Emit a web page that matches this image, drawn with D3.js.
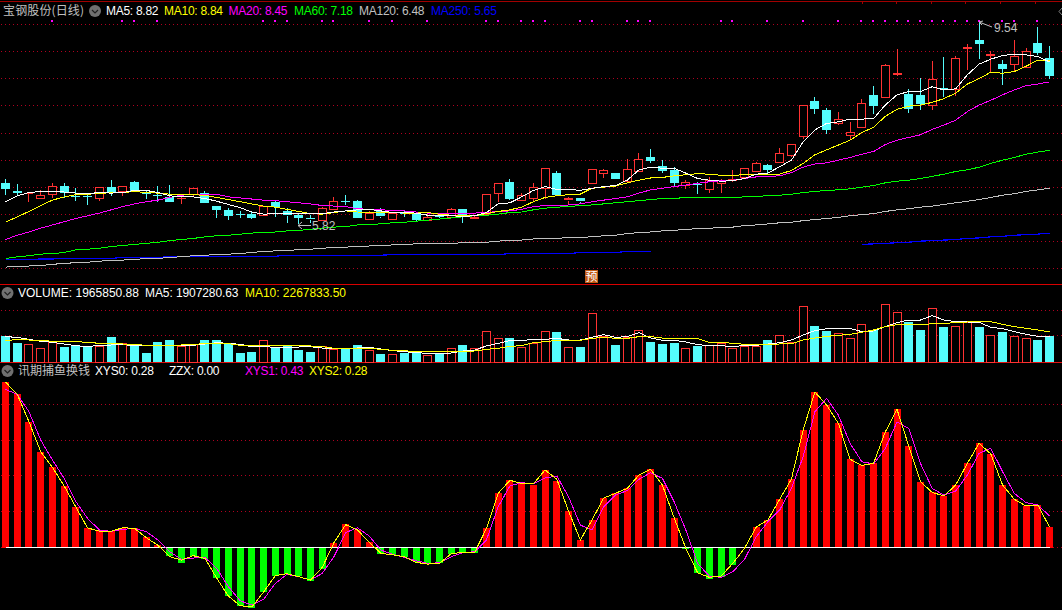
<!DOCTYPE html>
<html><head><meta charset="utf-8">
<style>html,body{margin:0;padding:0;background:#000;overflow:hidden}svg{display:block}text{font-family:"Liberation Sans",Arial,sans-serif;font-size:12px}.cjk{font-family:"Noto Sans CJK SC",sans-serif}</style>
<script src="https://d3js.org/d3.v7.min.js"></script>
</head><body><svg id="c" width="1062" height="610"></svg>
<script>
const opens=[6.58,6.43,6.39,6.29,6.38,6.52,6.34,6.34,6.29,6.50,6.42,6.59,6.40,6.36,6.32,6.29,6.36,6.40,6.16,6.08,6.00,6.00,6.00,6.22,6.05,5.98,5.92,5.89,6.10,6.24,6.24,5.92,6.05,5.92,6.02,6.02,5.90,5.97,5.95,6.09,5.90,6.00,6.38,6.60,6.25,6.29,6.48,6.76,6.25,6.29,6.58,6.75,6.77,6.60,6.81,7.05,6.90,6.82,6.53,6.55,6.47,6.58,6.63,6.68,6.80,6.91,6.98,7.08,7.45,8.10,7.93,7.68,7.47,7.60,8.21,8.16,8.58,8.23,8.21,8.01,8.34,8.31,9.05,9.23,8.94,8.78,8.77,8.73,9.17,8.89];
const closes=[6.46,6.39,6.40,6.35,6.53,6.39,6.33,6.33,6.50,6.40,6.52,6.42,6.39,6.35,6.23,6.30,6.48,6.21,6.08,5.97,5.98,5.93,6.16,6.13,5.97,5.92,5.90,6.12,6.24,6.22,5.93,6.03,5.95,6.03,6.00,5.89,5.95,5.95,6.09,5.94,5.94,6.37,6.57,6.29,6.35,6.50,6.85,6.35,6.29,6.23,6.83,6.81,6.65,6.83,7.03,6.98,6.80,6.58,6.59,6.54,6.63,6.64,6.66,6.85,6.94,6.82,7.14,7.29,8.02,7.95,7.56,7.76,7.53,8.05,8.00,8.76,8.61,7.95,8.04,8.50,8.32,8.89,9.09,9.15,8.97,8.69,8.92,9.03,8.98,8.56];
const highs=[6.65,6.56,6.40,6.44,6.57,6.58,6.48,6.39,6.50,6.63,6.53,6.61,6.45,6.53,6.54,6.35,6.48,6.42,6.16,6.11,6.05,6.06,6.16,6.24,6.11,6.02,5.98,6.14,6.31,6.35,6.27,6.05,6.11,6.04,6.06,6.04,6.02,6.00,6.11,6.09,5.97,6.37,6.57,6.65,6.39,6.58,6.85,6.80,6.32,6.29,6.83,6.83,6.77,7.02,7.13,7.21,7.00,6.87,6.63,6.60,6.69,6.66,6.82,6.85,6.96,6.92,7.23,7.29,8.02,8.17,7.97,7.89,7.71,8.14,8.37,8.78,9.06,8.32,8.52,8.84,8.91,8.93,9.15,9.54,9.02,8.85,9.23,9.08,9.47,9.11];
const lows=[6.36,6.36,6.23,6.28,6.30,6.30,6.25,6.17,6.25,6.34,6.34,6.42,6.28,6.23,6.23,6.19,6.34,6.20,5.92,5.90,5.93,5.91,5.98,5.95,5.84,5.82,5.84,5.89,6.09,6.17,5.92,5.89,5.92,5.92,5.95,5.87,5.89,5.92,5.93,5.84,5.89,5.99,6.22,6.26,6.24,6.23,6.29,6.35,6.19,6.19,6.58,6.67,6.65,6.58,6.79,6.95,6.76,6.52,6.47,6.37,6.39,6.39,6.60,6.65,6.78,6.73,6.97,7.06,7.39,7.85,7.49,7.66,7.40,7.59,7.85,8.15,8.55,7.87,7.92,7.92,8.17,8.19,8.67,8.87,8.62,8.40,8.65,8.72,8.95,8.50];
const ma5=[6.23,6.34,6.40,6.42,6.42,6.41,6.39,6.38,6.40,6.39,6.40,6.44,6.44,6.40,6.34,6.32,6.32,6.29,6.24,6.18,6.12,6.04,6.00,6.01,6.01,6.01,6.02,6.01,6.04,6.06,6.08,6.09,6.06,6.03,6.03,6.02,5.98,5.97,5.97,5.96,5.97,6.03,6.19,6.21,6.32,6.44,6.51,6.46,6.46,6.44,6.48,6.51,6.53,6.63,6.82,6.87,6.85,6.85,6.76,6.66,6.63,6.61,6.62,6.66,6.74,6.76,6.88,7.00,7.34,7.56,7.68,7.71,7.76,7.76,7.77,8.02,8.21,8.27,8.27,8.36,8.30,8.32,8.58,8.78,8.87,8.94,8.96,8.95,8.92,8.82];
const ma10=[5.85,5.95,6.05,6.16,6.26,6.32,6.36,6.37,6.38,6.40,6.40,6.42,6.40,6.39,6.37,6.37,6.36,6.35,6.31,6.27,6.23,6.19,6.15,6.13,6.09,6.05,6.01,6.00,6.03,6.06,6.04,6.03,6.03,6.03,6.02,6.02,6.03,6.00,5.98,5.97,5.97,6.01,6.05,6.08,6.13,6.23,6.31,6.34,6.36,6.37,6.48,6.50,6.52,6.58,6.63,6.67,6.68,6.71,6.73,6.75,6.74,6.72,6.72,6.73,6.74,6.73,6.74,6.81,6.94,7.10,7.19,7.28,7.37,7.51,7.61,7.81,7.94,8.00,8.02,8.07,8.14,8.24,8.41,8.51,8.63,8.61,8.64,8.74,8.85,8.84];
const ma20=[5.53,5.61,5.67,5.74,5.80,5.86,5.92,5.97,6.02,6.08,6.14,6.19,6.23,6.26,6.31,6.35,6.37,6.37,6.37,6.32,6.30,6.28,6.26,6.25,6.23,6.21,6.19,6.16,6.15,6.14,6.10,6.09,6.08,6.07,6.06,6.04,6.02,6.01,6.01,6.01,6.02,6.03,6.05,6.06,6.09,6.14,6.16,6.16,6.17,6.19,6.23,6.26,6.29,6.32,6.39,6.45,6.48,6.51,6.54,6.57,6.60,6.62,6.63,6.66,6.69,6.70,6.71,6.77,6.87,6.93,6.95,7.00,7.05,7.11,7.16,7.29,7.37,7.42,7.47,7.57,7.65,7.74,7.90,8.02,8.11,8.21,8.30,8.38,8.41,8.45];
const ma60=[5.18,5.21,5.23,5.26,5.27,5.29,5.34,5.35,5.37,5.40,5.42,5.44,5.46,5.48,5.51,5.53,5.55,5.58,5.60,5.61,5.63,5.65,5.66,5.67,5.69,5.70,5.72,5.74,5.76,5.77,5.80,5.81,5.82,5.84,5.85,5.87,5.89,5.91,5.93,5.95,5.97,5.98,6.00,6.03,6.04,6.08,6.11,6.13,6.14,6.16,6.17,6.19,6.21,6.23,6.25,6.27,6.29,6.29,6.31,6.31,6.31,6.31,6.31,6.32,6.33,6.34,6.35,6.37,6.40,6.42,6.44,6.45,6.47,6.50,6.53,6.58,6.61,6.63,6.66,6.70,6.74,6.79,6.82,6.87,6.94,7.00,7.05,7.11,7.15,7.18];
const ma120=[5.02,5.03,5.04,5.05,5.07,5.09,5.10,5.11,5.13,5.14,5.15,5.16,5.18,5.18,5.20,5.21,5.23,5.24,5.25,5.26,5.27,5.29,5.31,5.32,5.33,5.34,5.35,5.37,5.38,5.39,5.40,5.41,5.42,5.43,5.44,5.45,5.45,5.46,5.46,5.47,5.48,5.48,5.50,5.52,5.52,5.54,5.55,5.55,5.57,5.57,5.58,5.60,5.61,5.64,5.66,5.67,5.69,5.70,5.72,5.73,5.74,5.75,5.76,5.79,5.80,5.82,5.84,5.85,5.88,5.90,5.92,5.94,5.97,5.99,6.01,6.05,6.08,6.10,6.13,6.15,6.18,6.21,6.24,6.27,6.31,6.35,6.38,6.42,6.45,6.48];
const ma250=[5.16,5.16,5.16,5.17,5.17,5.18,5.18,5.18,5.18,5.18,5.20,5.20,5.20,5.20,5.21,5.21,5.21,5.21,5.21,5.21,5.22,5.22,5.22,5.22,5.24,5.24,5.24,5.24,5.24,5.24,5.24,5.24,5.24,5.25,5.25,5.25,5.25,5.25,5.25,5.25,5.25,5.25,5.25,5.27,5.27,5.27,5.27,5.27,5.27,5.29,5.29,5.29,5.29,5.31,5.31,5.31,null,null,null,null,null,null,null,null,null,null,null,null,null,null,null,null,null,5.44,5.45,5.46,5.47,5.48,5.50,5.51,5.52,5.53,5.55,5.56,5.58,5.59,5.61,5.62,5.63,5.65];
const signalBars=[4,10,11,13,22,23,24,27,28,31,33,36,41,42,44,45,46,49,50,53,54,55,61,62,65,68,71,73,74,75,76,77,78,79,80,81,82,83,85,86,88];
const priceTicks=[9.51,9.01,8.51,8.01,7.50,7.00,6.50,6.00,5.50,5.00];
const volume=[196.6,143.6,133.6,103.3,148.7,113.4,123.5,113.4,118.4,189,141.1,123.5,68,151.2,166.3,118.4,133.6,166.3,166.3,133.6,68,75.6,163.8,108.4,123.5,90.7,75.6,123.5,100.8,98.3,128.5,88.2,60.5,58,68,75.6,55.4,65.5,103.3,128.5,103.3,231.8,178.9,181.4,113.4,141.1,231.8,226.8,110.9,113.4,367.9,196.6,128.5,186.5,239.4,151.2,136.1,143.6,103.3,121,126,141.1,103.3,123.5,121,166.3,201.6,151.2,420.8,272.2,234.4,216.7,178.9,284.8,241.9,436,375.5,299.9,241.9,405.7,264.6,269.6,299.9,264.6,201.6,226.8,194,178.9,166.3,196.6];
const volMa5=[191.5,186.5,171.4,156.2,148.7,136.1,123.5,115.9,126,128.5,131,123.5,123.5,128.5,128.5,128.5,126,136.1,146.2,141.1,133.6,115.9,115.9,110.9,108.4,113.4,115.9,105.8,103.3,98.3,105.8,110.9,98.3,85.7,78.1,70.6,65.5,63,68,83.2,90.7,121,141.1,161.3,161.3,171.4,171.4,178.9,166.3,166.3,186.5,206.6,186.5,191.5,221.8,181.4,163.8,163.8,151.2,131,123.5,123.5,115.9,126,126,136.1,146.2,166.3,204.1,236.9,252,254.5,254.5,229.3,234.4,267.1,297.4,317.5,317.5,350.3,317.5,304.9,302.4,299.9,262.1,252,229.3,209.2,194,190.7];
const volMa10=[158.8,171.4,166.3,163.8,156.2,153.7,153.7,148.7,141.1,141.1,136.1,133.6,126,126,123.5,128.5,133.6,138.6,141.1,138.6,126,123.5,123.5,123.5,123.5,121,121,115.9,103.3,103.3,103.3,103.3,95.8,88.2,85.7,78.1,78.1,78.1,78.1,80.6,83.2,95.8,103.3,118.4,123.5,146.2,153.7,163.8,163.8,163.8,178.9,186.5,178.9,178.9,191.5,191.5,181.4,173.9,176.4,176.4,148.7,148.7,141.1,133.6,131,131,136.1,136.1,166.3,181.4,194,201.6,209.2,224.3,241.9,267.1,282.2,282.2,279.7,289.8,292.3,297.4,302.4,304.9,304.9,284.8,267.1,254.5,241.9,226.8];
const volTicks=[390,201];
const xys0=[2.237,2.075,1.701,1.292,1.089,.833,.549,.266,.221,.221,.261,.261,.140,.032,-.108,-.203,-.108,-.158,-.410,-.653,-.783,-.815,-.599,-.378,-.351,-.383,-.450,-.293,.059,.320,.239,.081,-.086,-.099,-.122,-.189,-.221,-.212,-.086,-.063,-.068,.266,.734,.909,.869,.846,1.049,.905,.495,.104,.374,.671,.734,.801,.981,1.058,.846,.405,-.023,-.338,-.423,-.392,-.234,0,.279,.374,.653,.927,1.589,2.102,1.926,1.679,1.193,1.112,1.139,1.562,1.868,1.373,.891,.747,.698,.846,1.139,1.409,1.265,.846,.653,.563,.576,.28];
const xys1=[2.138,2.07,1.836,1.454,1.184,.936,.621,.396,.239,.221,.248,.261,.216,.104,-.054,-.158,-.14,-.131,-.279,-.527,-.716,-.774,-.698,-.482,-.36,-.392,-.437,-.347,-.122,.203,.27,.158,-.032,-.09,-.131,-.176,-.212,-.203,-.122,-.068,-.054,.104,.554,.833,.878,.86,.941,.968,.689,.306,.239,.554,.711,.77,.923,1.013,.936,.621,.239,-.212,-.383,-.40,-.324,-.158,.149,.351,.509,.801,1.229,1.836,2.016,1.791,1.409,1.161,1.13,1.341,1.697,1.611,1.139,.801,.711,.765,.981,1.274,1.341,1.026,.734,.608,.576,.43];
const xys2=[2.237,2.07,1.701,1.296,1.085,.833,.549,.266,.225,.221,.27,.261,.135,.032,-.122,-.167,-.108,-.144,-.41,-.653,-.783,-.801,-.599,-.378,-.351,-.392,-.437,-.266,.068,.311,.239,.077,-.077,-.095,-.122,-.198,-.221,-.212,-.081,-.063,-.063,.261,.734,.909,.869,.86,1.049,.923,.495,.104,.374,.671,.734,.801,.981,1.058,.846,.405,-.009,-.338,-.40,-.383,-.212,-.009,.279,.374,.653,.927,1.589,2.102,1.926,1.679,1.193,1.112,1.139,1.562,1.868,1.373,.891,.747,.698,.846,1.139,1.409,1.265,.846,.653,.563,.576,.28];
const oscTicks=[1.94,1.45,.98,.49,0];

const RED='#ff3232',CYAN='#54fcfc',GRID='#b00020',GREY='#c0c0c0';
const bars=d3.range(90);
const svg=d3.select('#c');
const x=d3.scaleLinear().domain([0,89]).range([5.5,1049.5]);
const yP=d3.scaleLinear().domain([5,9.54]).range([23+4.54*54,23]);
const yV=d3.scaleLinear().domain([0,436]).range([362,362-436/7.56]);
const yO=d3.scaleLinear().domain([-1,2.237]).range([547.7+74.07,547.7-2.237*74.07]);
const px=v=>Math.floor(v)+.5;

function grid(sc,ticks){
  svg.append('g').selectAll('line').data(ticks).join('line')
    .attr('x1',1).attr('x2',1062).attr('y1',d=>px(sc(d))).attr('y2',d=>px(sc(d)))
    .attr('stroke',GRID).attr('stroke-dasharray','1 3').attr('shape-rendering','crispEdges');
}
grid(yP,priceTicks);grid(yV,volTicks);grid(yO,oscTicks);

// panel rules
[[1.5,'#a00000'],[284.5,'#d80000'],[362.5,'#e01010']].forEach(([y,c])=>svg.append('line').attr('x1',0).attr('x2',1062).attr('y1',y).attr('y2',y).attr('stroke',c).attr('shape-rendering','crispEdges'));
d3.range(6).forEach(k=>svg.append('line').attr('x1',px(862+34.6*k)).attr('x2',px(862+34.6*k)).attr('y1',1).attr('y2',4).attr('stroke','#a00000').attr('shape-rendering','crispEdges'));

// candles
const up=i=>closes[i]>=opens[i];
const cg=svg.append('g').attr('shape-rendering','crispEdges');
bars.forEach(i=>{
  const cx=px(x(i)),c=up(i)?RED:CYAN;
  const top=yP(Math.max(opens[i],closes[i])),bot=yP(Math.min(opens[i],closes[i]));
  cg.append('line').attr('x1',cx).attr('x2',cx).attr('y1',yP(highs[i])).attr('y2',top).attr('stroke',c);
  cg.append('line').attr('x1',cx).attr('x2',cx).attr('y1',bot).attr('y2',yP(lows[i])).attr('stroke',c);
  const h=Math.max(1,Math.round(bot-top));
  if(up(i)&&h>2) cg.append('rect').attr('x',cx-4).attr('width',8).attr('y',Math.round(top)+.5).attr('height',h).attr('fill','#000').attr('stroke',c);
  else cg.append('rect').attr('x',cx-4.5).attr('width',9).attr('y',Math.round(top)).attr('height',h).attr('fill',c);
});
function line(arr,sc,color,w){
  svg.append('path').attr('d',d3.line().defined(d=>d!=null).x((d,i)=>x(i)).y(d=>sc(d))(arr))
    .attr('fill','none').attr('stroke',color).attr('stroke-width',w||1).attr('shape-rendering','crispEdges');
}
line(ma250,yP,'#0000ff',1.2);
line(ma120,yP,GREY);line(ma60,yP,'#00ff00');line(ma20,yP,'#ff00ff');line(ma10,yP,'#ffff00');line(ma5,yP,'#ffffff');

// signal dots
svg.append('g').selectAll('rect').data(signalBars).join('rect')
  .attr('x',d=>Math.floor(x(d))-1).attr('y',Math.round(yP(9.58))-1).attr('width',2).attr('height',2).attr('fill','#ff00ff').attr('shape-rendering','crispEdges');

// volume
const vg=svg.append('g').attr('shape-rendering','crispEdges');
bars.forEach(i=>{
  const cx=px(x(i)),t=yV(volume[i]);
  if(up(i)) vg.append('rect').attr('x',cx-4).attr('width',8).attr('y',Math.round(t)+.5).attr('height',Math.round(362-t)).attr('fill','#000').attr('stroke',RED);
  else vg.append('rect').attr('x',cx-4.5).attr('width',9).attr('y',Math.round(t)).attr('height',Math.round(362-t)).attr('fill',CYAN);
});
line(volMa5,yV,'#ffffff');line(volMa10,yV,'#ffff00');

// oscillator
const og=svg.append('g').attr('shape-rendering','crispEdges');
bars.forEach(i=>{
  const v=xys0[i];
  og.append('rect').attr('x',Math.round(x(i)-3.5)).attr('width',7)
    .attr('y',v>=0?yO(v):yO(0)).attr('height',Math.abs(yO(v)-yO(0))).attr('fill',v>=0?'#ff0000':'#00ff00');
});
svg.append('line').attr('x1',x(0)).attr('x2',x(89)).attr('y1',px(yO(0))).attr('y2',px(yO(0))).attr('stroke','#fff').attr('shape-rendering','crispEdges');
line(xys1,yO,'#ff00ff');line(xys2,yO,'#ffff00');

// legends
function label(t,lx,ly,c,cls,len){
  const s=svg.append('text').attr('x',lx).attr('y',ly).attr('fill',c).attr('class',cls||null).text(t);
  if(len) s.attr('textLength',len).attr('lengthAdjust','spacing');
}
function icon(cx,cy){
  svg.append('circle').attr('cx',cx).attr('cy',cy).attr('r',6).attr('fill','#707070');
  svg.append('path').attr('d',`M${cx-3},${cy-1}L${cx},${cy+2}L${cx+3},${cy-1}`).attr('fill','none').attr('stroke','#202020').attr('stroke-width',1.2);
}
label('宝钢股份(日线)',3,15,GREY,'cjk',81);icon(95,11);
label('MA5: 8.82',106,15,'#fff',null,52.5);label('MA10: 8.84',164,15,'#ff0',null,59);label('MA20: 8.45',228.5,15,'#f0f',null,59);
label('MA60: 7.18',294,15,'#0f0',null,59);label('MA120: 6.48',359,15,GREY,null,65.5);label('MA250: 5.65',431,15,'#00f',null,66);
icon(7.5,293);
label('VOLUME: 1965850.88',18,297,'#fff',null,121);label('MA5: 1907280.63',145,297,'#fff',null,93.5);label('MA10: 2267833.50',245,297,'#ff0',null,101);
icon(7.5,371);
label('讯期捕鱼换钱',18,375,GREY,'cjk');label('XYS0: 0.28',95,375,'#fff',null,59);label('ZZX: 0.00',169,375,'#fff',null,50.5);
label('XYS1: 0.43',245,375,'#f0f',null,58.5);label('XYS2: 0.28',309,375,'#ff0',null,58.5);

// high / low annotations
label('9.54',994,32,GREY);
svg.append('path').attr('d','M979,22L992,27M979,22L983,21M979,22L982,25').attr('fill','none').attr('stroke',GREY);
label('5.82',312,230,GREY);
svg.append('path').attr('d','M298,225.5L311,225.5M298,225.5L302,222M298,225.5L302,229').attr('fill','none').attr('stroke',GREY);

// forecast badge
svg.append('rect').attr('x',585).attr('y',270).attr('width',13).attr('height',13).attr('fill','#c05a14');
svg.append('text').attr('x',585.5).attr('y',281).attr('fill','#fff').attr('class','cjk').text('预');

// corner marker
svg.append('path').attr('d','M1062,8L1059,11.5L1062,15').attr('fill','none').attr('stroke','#808080');
</script></body></html>
